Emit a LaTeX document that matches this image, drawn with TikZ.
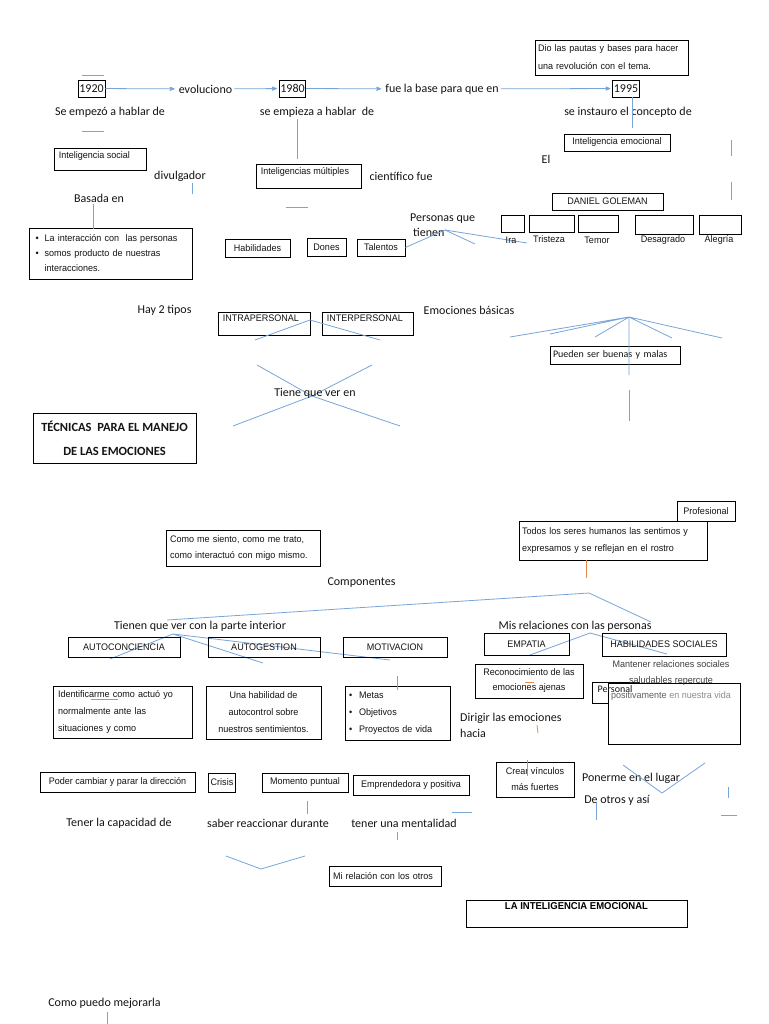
\documentclass[tikz,border=0pt]{standalone}
\usepackage{fontspec}
\setmainfont{Carlito}
\newfontfamily\nar[FakeStretch=0.95]{Liberation Sans}
\usetikzlibrary{arrows}
\definecolor{lblue}{RGB}{120,165,215}
\definecolor{txtc}{RGB}{20,20,20}
\definecolor{orng}{RGB}{232,135,70}
\newcommand\txf{\fontsize{12}{15}\selectfont}
\newcommand\bxf{\nar\fontsize{9.5}{12}\selectfont}

\begin{document}
\begin{tikzpicture}[x=1pt,y=-1pt,>=stealth',
    ln/.style={draw=lblue,line width=0.8pt},
    oln/.style={draw=orng,line width=0.8pt},
    arr/.style={ln,->,shorten >=2pt},
    txt/.style={inner sep=2pt,font=\txf,text=txtc},
    box/.style={draw=black,line width=0.9pt,inner sep=2pt,font=\bxf,text=txtc},
    yr/.style={box,font=\txf,inner sep=1pt},
    sz/.style 2 args={minimum width=#1,minimum height=#2},
    lab/.style={anchor=north west,inner xsep=5pt,inner ysep=3.5pt,font=\bxf,text=txtc}]

  \fill[white] (0,0) rectangle (768,1024);
  \useasboundingbox (0,0) rectangle (768,1024);

  % historia
  \node[yr,sz={27}{17}] (y1920) at (91.5,88.5) {1920};
  \node[txt] (evo) at (205.5,89) {evoluciono};
  \node[yr,sz={25}{17}] (y1980) at (292.5,88.5) {1980};
  \node[txt] (base) at (442,89) {fue la base para que en};
  \node[yr,sz={26}{17}] (y1995) at (626,88.5) {1995};
  \draw[arr] (y1920) -- (evo);
  \draw[arr] (evo) -- (y1980);
  \draw[arr] (y1980) -- (base);
  \draw[arr] (base) -- (y1995);
  \draw[ln] (82,75) -- (104,75);
  \draw[ln] (82,131) -- (104,131);

  \node[box,sz={153}{35},align=left,text width=147,
        font={\nar\fontsize{9.5}{18}\selectfont}] (pautas) at (611.5,57.5)
        {Dio las pautas y bases para hacer\\una revolución con el tema.};

  \node[txt] (hab1) at (110,112) {Se empezó a hablar de};
  \node[txt] (hab2) at (317,112) {se empieza a hablar\ \ de};
  \node[txt] (inst) at (628,112) {se instauro el concepto de};
  \draw[ln] ([xshift=6]y1995.south) -- ++(0,31);
  \draw[ln] ([xshift=-20]hab2.south) -- ++(0,40);

  \node[box,sz={106}{17}] (iemo) at (617,142.5) {Inteligencia emocional};
  \node[txt] (el) at (546,159) {El};
  \node[box,sz={92}{22},label={[lab]north west:Inteligencia social}] (isoc) at (100,159) {};
  \node[txt] (divul) at (180,176) {divulgador};
  \draw[ln] ([xshift=12]divul.south) -- ++(0,11);
  \node[txt] (basada) at (99,198) {Basada en};
  \node[box,sz={163}{51},align=left,text width=150,
        font={\nar\fontsize{9.5}{15}\selectfont}] (inter) at (110.5,253.5)
        {\textbullet\hspace{6pt}La interacción con\ \ las personas\\
         \textbullet\hspace{6pt}somos producto de nuestras\\
         \hspace*{9pt}interacciones.};
  \draw[ln] ([xshift=-6]basada.south) -- ++(0,25);

  \node[box,sz={105}{24},label={[lab]north west:Inteligencias múltiples}] (imul) at (308.5,176) {};
  \node[txt] (cient) at (401,176) {científico fue};
  \draw[ln] (286,207) -- (308,207);
  \node[box,sz={65}{18}] (habil) at (257.5,248) {Habilidades};
  \node[box,sz={39}{18}] (dones) at (326.5,247) {Dones};
  \node[box,sz={48}{17}] (talen) at (381,247.5) {Talentos};
  \node[txt,align=left,anchor=north west] (pers) at (408,212) {Personas que\\\hspace*{3pt}tienen};
  \coordinate (pq) at (445,230);
  \draw[ln] (talen.east) -- (pq) -- (475,244);
  \draw[ln] (pq) -- (527,243);

  \node[box,sz={111}{17}] (gole) at (607.5,201.5) {DANIEL GOLEMAN};
  \draw[ln] (731,140) -- (731,156);
  \draw[ln] (731,182) -- (731,200);

  % emociones
  \node[box,sz={23}{17}] (ira) at (512.5,223.5) {};
  \node[box,sz={45}{17}] (tris) at (551.5,223.5) {};
  \node[box,sz={40}{17}] (temor) at (598,223.5) {};
  \node[box,sz={58}{19}] (desa) at (664,224.5) {};
  \node[box,sz={42}{19}] (aleg) at (720,224.5) {};
  \node[txt,font=\bxf] (lira) at (511,240) {Ira};
  \node[txt,font=\bxf] (ltris) at (549,239) {Tristeza};
  \node[txt,font=\bxf] (ltemor) at (597,240) {Temor};
  \node[txt,font=\bxf] (ldesa) at (663,240) {Desagrado};
  \node[txt,font=\bxf] (laleg) at (719,240) {Alegría};

  % tipos
  \node[txt] (tipos) at (164.5,310) {Hay 2 tipos};
  \node[box,sz={92}{23},label={[lab]north west:INTRAPERSONAL}] (intra) at (264,323.5) {};
  \node[box,sz={91}{23},label={[lab]north west:INTERPERSONAL}] (interp) at (367.5,323.5) {};
  \coordinate (tp) at (310,320);
  \draw[ln] (255,340) -- (tp) -- (380,340);
  \coordinate (xc) at (312,396);
  \draw[ln] (257,365) -- (xc) -- (400,426);
  \draw[ln] (372,365) -- (xc) -- (233,426);
  \node[txt] (tiene) at (315,393) {Tiene que ver en};
  \node[box,sz={163}{50},align=center,
        font={\bfseries\fontsize{12.5}{24}\selectfont}] (tec) at (114.5,438)
        {TÉCNICAS\ \ PARA EL MANEJO\\DE LAS EMOCIONES};

  \node[txt] (ebas) at (469,310) {Emociones básicas};
  \coordinate (fan) at (629,317);
  \node[box,sz={130}{18},align=left,text width=124,
        font={\fontsize{10}{12}\selectfont}] (buen) at (615,355) {Pueden ser buenas y malas};
  \path[ln] (fan) -- (510,337)
            (fan) -- (550,334)
            (fan) -- (595,337)
            (fan) -- (672,338)
            (fan) -- (722,338)
            (fan) -- (629,375);
  \draw[ln] (629,390) -- (629,421);

  % componentes
  \node[box,sz={58}{20}] (prof) at (706,511) {Profesional};
  \node[box,sz={188}{39},align=left,text width=182,
        font={\nar\fontsize{9.5}{17}\selectfont}] (todos) at (613,540.5)
        {Todos los seres humanos las sentimos y\\expresamos y se reflejan en el rostro};
  \draw[oln] ([xshift=-27]todos.south) -- ++(0,18);
  \node[box,sz={154}{36},align=left,text width=146,
        font={\nar\fontsize{9.5}{16}\selectfont}] (como) at (243,548)
        {Como me siento, como me trato,\\como interactuó con migo mismo.};
  \node[txt] (comp) at (361.5,583) {Componentes};
  \coordinate (cmp) at (589,593);
  \draw[ln] (167,620) -- (cmp) -- (651,622);

  \node[txt] (inter2) at (200,626) {Tienen que ver con la parte interior};
  \coordinate (tq) at (173,634);
  \path[ln] (tq) -- (110,659)
            (tq) -- (263,663)
            (tq) -- (390,660);
  \node[box,sz={112}{20}] (aconc) at (124,647) {AUTOCONCIENCIA};
  \node[box,sz={112}{20}] (agest) at (264,647) {AUTOGESTION};
  \node[box,sz={104}{20}] (motiv) at (395,647) {MOTIVACION};

  \node[txt] (misrel) at (575,626) {Mis relaciones con las personas};
  \coordinate (mr) at (590,633);
  \draw[ln] (530,655) -- (mr) -- (667,654);
  \node[box,sz={85}{22}] (empat) at (526.5,644) {EMPATIA};
  \node[box,sz={124}{23}] (hsoc) at (664,644.5) {HABILIDADES SOCIALES};
  \node[box,sz={108}{34},align=center,
        font={\nar\fontsize{9.5}{15}\selectfont}] (recon) at (529,681)
        {Reconocimiento de las\\emociones ajenas};
  \draw[oln] (525,682) -- (534,682);

  \node[draw=black,line width=0.9pt,sz={132}{61}] (vida) at (674,713.5) {};
  \draw[black,line width=0.9pt] (640,682) -| (592,703) -- (608,703);
  \node[txt,font={\fontsize{10}{12}\selectfont}] (perso) at (615,689) {Personal};
  \node[txt,align=center,text=black!75,
        font={\nar\fontsize{9.5}{15.5}\selectfont}] (mant) at (671,681)
        {Mantener relaciones sociales\\saludables repercute\\
         {\color{black!62}positivamente} {\color{black!45}en nuestra vida}};

  \node[txt,align=left,anchor=north west,font={\fontsize{12}{16}\selectfont}] (dirig) at (458,711)
        {Dirigir las emociones\\hacia};
  \draw[oln] (537,725) -- (538,733);

  \node[box,sz={139}{52},align=left,text width=129,
        font={\nar\fontsize{9.5}{17}\selectfont}] (ident) at (122.5,712)
        {\makebox[129pt][s]{Identificarme como actuó yo}\\
         \makebox[129pt][s]{normalmente ante las}\\
         \makebox[129pt][s]{situaciones y como}};
  \draw[oln] (91,699) -- (118,699);
  \node[box,sz={115}{53},align=center,
        font={\nar\fontsize{9.5}{17}\selectfont}] (autoc) at (263.5,712.5)
        {Una habilidad de\\autocontrol sobre\\nuestros sentimientos.};
  \node[box,sz={105}{54},align=left,text width=97,
        font={\nar\fontsize{9.5}{17}\selectfont}] (metas) at (397.5,713)
        {\textbullet\hspace{7pt}Metas\\\textbullet\hspace{7pt}Objetivos\\\textbullet\hspace{7pt}Proyectos de vida};
  \draw[ln] (397,676) -- (397,690);

  \node[box,sz={155}{20}] (poder) at (117.5,782) {Poder cambiar y parar la dirección};
  \node[box,sz={26}{19}] (crisis) at (222,782.5) {Crisis};
  \node[box,sz={86}{19}] (momen) at (305,782.5) {Momento puntual};
  \node[box,sz={116}{20}] (empre) at (411,785) {Emprendedora y positiva};
  \node[box,sz={78}{35},align=center,
        font={\nar\fontsize{9.5}{16}\selectfont}] (crear) at (535,779.5)
        {Crear vínculos\\más fuertes};
  \draw[ln] (527,760) -- (527,776);
  \node[txt] (poner) at (631,778) {Ponerme en el lugar};
  \node[txt] (otros) at (617,800) {De otros y así};
  \draw[ln] (623,765) -- (662,793) -- (705,763);
  \draw[ln] (596,803) -- (596,820);
  \draw[ln] (728,787) -- (728,798);
  \draw[ln] (721,815) -- (737,815);
  \draw[ln] (452,812) -- (472,812);

  % abajo
  \node[txt] (capac) at (119,823) {Tener la capacidad de};
  \node[txt] (reacc) at (268,823) {saber reaccionar durante};
  \node[txt] (mental) at (404,823) {tener una mentalidad};
  \draw[ln] (307,801) -- (307,814);
  \draw[ln] (397,832) -- (397,840);
  \draw[ln] (226,856) -- (261,869) -- (305,856);
  \node[box,sz={112}{20},align=left,text width=104] (otrosb) at (385,876) {Mi relación con los otros};
  \node[box,sz={221}{27},
        label={[anchor=north,inner sep=3pt,font={\nar\bfseries\fontsize{10}{12}\selectfont}]north:LA INTELIGENCIA EMOCIONAL}] (ie) at (576.5,913.5) {};
  \node[txt] (mejor) at (104.5,1003) {Como puedo mejorarla};
  \draw[ln] (107,1012) -- (107,1024);

\end{tikzpicture}
\end{document}
